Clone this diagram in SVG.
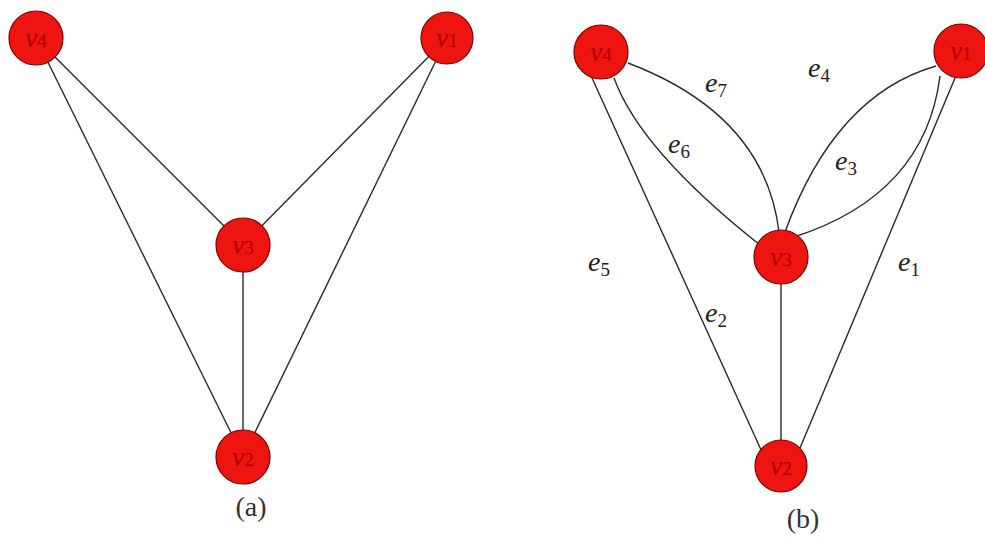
<svg xmlns="http://www.w3.org/2000/svg" width="985" height="538" viewBox="0 0 985 538">
<style>
.edge{stroke:#2a2a2a;stroke-width:1.4;fill:none}
.node{fill:#ee1410;stroke:#7a0000;stroke-width:1.2}
.nl{font-family:"Liberation Serif",serif;font-style:italic;font-size:27px;fill:#a80000;text-anchor:middle}
.el{font-family:"Liberation Serif",serif;font-style:italic;font-size:28px;fill:#222}
.sub{font-style:normal;font-size:19px}
.cap{font-family:"Liberation Serif",serif;font-size:28px;fill:#333;text-anchor:middle}
</style>
<rect width="985" height="538" fill="#ffffff"/>
<g id="connectors">
<line class="edge" x1="36" y1="38" x2="243" y2="245"/>
<line class="edge" x1="36" y1="38" x2="243" y2="457"/>
<line class="edge" x1="447" y1="38" x2="243" y2="245"/>
<line class="edge" x1="447" y1="38" x2="243" y2="457"/>
<line class="edge" x1="243" y1="245" x2="243" y2="457"/>
<line class="edge" x1="592" y1="78" x2="762" y2="452"/>
<line class="edge" x1="955" y1="78" x2="800" y2="448"/>
<line class="edge" x1="781" y1="257" x2="781" y2="466"/>
<path class="edge" d="M628,63 Q765,115 779,232"/>
<path class="edge" d="M614,78 Q640,150 760,245"/>
<path class="edge" d="M936,66 Q835,95 785,232"/>
<path class="edge" d="M940,76 Q925,195 794,237"/>
</g>
<g id="v4a"><circle class="node" cx="36" cy="38" r="27"/><text class="nl" x="36" y="47">v<tspan class="sub">4</tspan></text></g>
<g id="v1a"><circle class="node" cx="447" cy="38" r="26"/><text class="nl" x="447" y="47">v<tspan class="sub">1</tspan></text></g>
<g id="v3a"><circle class="node" cx="243" cy="245" r="27"/><text class="nl" x="243" y="254">v<tspan class="sub">3</tspan></text></g>
<g id="v2a"><circle class="node" cx="243" cy="457" r="27"/><text class="nl" x="243" y="466">v<tspan class="sub">2</tspan></text></g>
<g id="v4b"><circle class="node" cx="601" cy="52" r="27"/><text class="nl" x="601" y="61">v<tspan class="sub">4</tspan></text></g>
<g id="v1b"><circle class="node" cx="961" cy="51" r="27"/><text class="nl" x="961" y="60">v<tspan class="sub">1</tspan></text></g>
<g id="v3b"><circle class="node" cx="781" cy="257" r="27"/><text class="nl" x="781" y="266">v<tspan class="sub">3</tspan></text></g>
<g id="v2b"><circle class="node" cx="781" cy="466" r="26"/><text class="nl" x="781" y="475">v<tspan class="sub">2</tspan></text></g>
<g id="labels">
<text class="el" x="705" y="92">e<tspan class="sub" dy="5">7</tspan></text>
<text class="el" x="808" y="77">e<tspan class="sub" dy="5">4</tspan></text>
<text class="el" x="668" y="153">e<tspan class="sub" dy="5">6</tspan></text>
<text class="el" x="835" y="170">e<tspan class="sub" dy="5">3</tspan></text>
<text class="el" x="588" y="271">e<tspan class="sub" dy="5">5</tspan></text>
<text class="el" x="705" y="322">e<tspan class="sub" dy="5">2</tspan></text>
<text class="el" x="898" y="271">e<tspan class="sub" dy="5">1</tspan></text>
<text class="cap" x="251" y="516">(a)</text>
<text class="cap" x="803" y="528">(b)</text>
</g>
</svg>
